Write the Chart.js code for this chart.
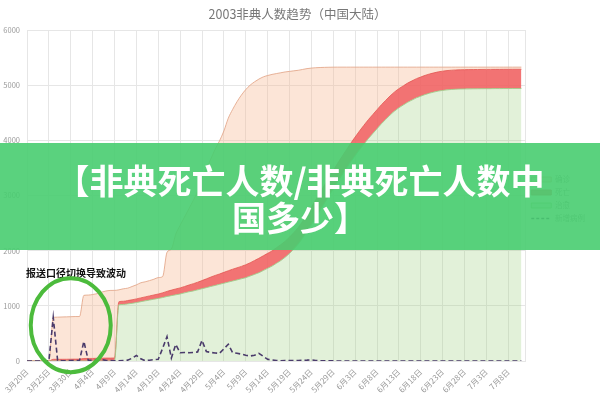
<!DOCTYPE html>
<html>
<head>
<meta charset="utf-8">
<script src="https://cdn.jsdelivr.net/npm/chart.js@4.4.0/dist/chart.umd.min.js"></script>
<style>
html, body { margin: 0; padding: 0; background: #fff; }
#wrap { position: relative; width: 600px; height: 398px; overflow: hidden; }
#banner {
    position: absolute; left: 0; top: 143px; width: 600px; height: 107px;
    background: rgba(72, 205, 112, 0.9);
    color: #fff; font-family: "Noto Sans CJK SC", sans-serif; font-weight: 700;
    font-size: 34px; line-height: 37px; text-align: center;
    display: flex; align-items: center; justify-content: center;
    padding-top: 3px; box-sizing: border-box;
}
</style>
</head>
<body>
<div id="wrap">
    <canvas id="chart" width="600" height="398"></canvas>
    <div id="banner"><div>【非典死亡人数/非典死亡人数中<br>国多少】</div></div>
</div>
<script>
// Datos (3月20日 -> 7月11日, un valor por día)
const confirmed = [
    0, 0, 0, 0, 0, 0, 792, 795, 798, 800,
    803, 806, 806, 1190, 1195, 1205, 1220, 1247, 1268, 1279,
    1280, 1290, 1309, 1320, 1350, 1380, 1418, 1435, 1457, 1482,
    1512, 1530, 1970, 2030, 2300, 2460, 2610, 2760, 2910, 3080,
    3320, 3490, 3660, 3840, 3990, 4170, 4400, 4560, 4700, 4820,
    4920, 5000, 5060, 5110, 5150, 5175, 5195, 5210, 5225, 5240,
    5250, 5260, 5270, 5285, 5300, 5310, 5316, 5320, 5323, 5325,
    5326, 5327, 5327, 5327, 5327, 5327, 5327, 5327, 5327, 5327,
    5327, 5327, 5327, 5327, 5327, 5327, 5327, 5327, 5327, 5327,
    5327, 5327, 5327, 5327, 5327, 5327, 5327, 5327, 5327, 5327,
    5327, 5327, 5327, 5327, 5327, 5327, 5327, 5327, 5327, 5327,
    5327, 5327, 5327, 5327
];
const deaths = [
    0, 0, 0, 0, 0, 0, 31, 31, 31, 32,
    33, 34, 34, 46, 46, 47, 49, 51, 53, 53,
    55, 56, 58, 61, 64, 66, 69, 72, 75, 77,
    79, 86, 92, 100, 106, 110, 115, 122, 131, 138,
    148, 159, 170, 181, 187, 197, 206, 214, 219, 225,
    235, 240, 252, 262, 267, 271, 275, 282, 289, 290,
    296, 298, 300, 303, 316, 317, 321, 325, 327, 328,
    332, 334, 336, 337, 338, 340, 340, 343, 343, 344,
    345, 345, 346, 346, 347, 347, 347, 348, 348, 348,
    348, 348, 348, 348, 348, 349, 349, 349, 349, 349,
    349, 349, 349, 349, 349, 349, 349, 349, 349, 349,
    349, 349, 349, 349
];
const cured = [
    0, 0, 0, 0, 0, 0, 0, 0, 0, 0,
    0, 0, 0, 0, 0, 0, 0, 0, 0, 0,
    0, 1018, 1025, 1035, 1045, 1060, 1075, 1090, 1105, 1120,
    1135, 1150, 1170, 1185, 1200, 1215, 1235, 1255, 1270, 1290,
    1310, 1330, 1351, 1370, 1390, 1410, 1430, 1450, 1470, 1490,
    1510, 1540, 1570, 1600, 1640, 1680, 1720, 1770, 1820, 1880,
    1950, 2030, 2120, 2230, 2350, 2470, 2600, 2730, 2860, 2990,
    3120, 3250, 3370, 3490, 3610, 3720, 3830, 3930, 4030, 4120,
    4210, 4300, 4380, 4460, 4530, 4590, 4640, 4690, 4730, 4770,
    4800, 4830, 4855, 4875, 4893, 4905, 4915, 4922, 4927, 4930,
    4932, 4933, 4934, 4935, 4936, 4937, 4937, 4938, 4938, 4939,
    4939, 4940, 4940, 4940
];
const newCases = [
    0, 0, 0, 0, 0, 0, 790, 10, 5, 5,
    8, 5, 10, 355, 15, 10, 20, 25, 12, 8,
    5, 5, 10, 15, 50, 100, 40, 5, 15, 25,
    30, 230, 440, 55, 300, 150, 155, 150, 155, 165,
    375, 170, 155, 145, 140, 220, 303, 151, 139, 125,
    105, 90, 105, 139, 85, 30, 20, 8, 5, 10,
    8, 6, 10, 12, 15, 20, 10, 5, 3, 2,
    2, 1, 0, 1, 0, 0, 1, 0, 0, 0,
    0, 1, 0, 0, 0, 0, 0, 0, 1, 0,
    0, 0, 0, 0, 0, 0, 0, 0, 0, 0,
    0, 0, 0, 0, 0, 0, 0, 0, 0, 0,
    0, 0, 0, 0
];
const yTicks = [0, 1000, 2000, 3000, 4000, 5000, 6000];
const titleText = '2003非典人数趋势（中国大陆）';
const noteText = '报送口径切换导致波动';

// Etiquetas diarias del eje x
const monthRanges = [[3, 20, 31], [4, 1, 30], [5, 1, 31], [6, 1, 30], [7, 1, 12]];
const dayLabels = [];
monthRanges.forEach(([m, from, to]) => {
    for (let d = from; d <= to; d++) dayLabels.push(m + '月' + d + '日');
});

const gridColor = '#e6e6e6';
const legendOrder = [1, 3, 2, 0];

Chart.defaults.font.family = '"Noto Sans CJK SC", "Noto Sans", sans-serif';

// Anotación y círculo verde
const notePlugin = {
    id: 'note',
    afterDraw(chart) {
        const { ctx, chartArea, scales: { x, y } } = chart;
        ctx.save();
        ctx.font = 'bold 10px "Noto Sans CJK SC"';
        ctx.fillStyle = '#111';
        ctx.textBaseline = 'middle';
        ctx.fillText(noteText, chartArea.left - 1, y.getPixelForValue(1600));
        ctx.beginPath();
        ctx.ellipse(x.getPixelForValue(10), y.getPixelForValue(650), 40, 47, 0, 0, Math.PI * 2);
        ctx.lineWidth = 4;
        ctx.strokeStyle = '#4cbb3c';
        ctx.stroke();
        ctx.restore();
    }
};

new Chart(document.getElementById('chart'), {
    type: 'line',
    data: {
        labels: dayLabels,
        datasets: [
            {
                label: '新增病例',
                data: newCases,
                borderColor: '#4a3b6b',
                backgroundColor: 'rgba(0,0,0,0)',
                borderWidth: 1.6,
                borderDash: [5, 3],
                tension: 0,
                fill: false,
                stack: 'c',
                pointRadius: 0,
                pointStyle: 'line'
            },
            {
                label: '确诊',
                data: confirmed,
                borderColor: 'rgba(225,160,130,0.8)',
                backgroundColor: 'rgba(247,180,140,0.35)',
                borderWidth: 1,
                cubicInterpolationMode: 'monotone',
                fill: 3,
                stack: 'b',
                pointRadius: 0,
                pointStyle: 'rect'
            },
            {
                label: '治愈',
                data: cured,
                borderColor: 'rgba(160,205,140,0.9)',
                backgroundColor: 'rgba(160,210,130,0.3)',
                borderWidth: 1,
                cubicInterpolationMode: 'monotone',
                fill: 'origin',
                stack: 'a',
                pointRadius: 0,
                pointStyle: 'rect'
            },
            {
                label: '死亡',
                data: deaths,
                borderColor: '#e45b5b',
                backgroundColor: 'rgba(240,90,90,0.85)',
                borderWidth: 1,
                cubicInterpolationMode: 'monotone',
                fill: 2,
                stack: 'a',
                pointRadius: 0,
                pointStyle: 'rect'
            }
        ]
    },
    options: {
        responsive: false,
        animation: false,
        layout: { padding: { right: 5 } },
        plugins: {
            title: {
                display: true,
                text: titleText,
                color: '#777',
                font: { size: 12.5, weight: 'normal' },
                padding: { top: 7, bottom: 8 }
            },
            legend: {
                position: 'right',
                labels: {
                    usePointStyle: true,
                    pointStyleWidth: 20,
                    boxHeight: 5,
                    padding: 5.5,
                    color: '#999',
                    font: { size: 7.5 },
                    generateLabels(chart) {
                        return legendOrder.map(i => {
                            const ds = chart.data.datasets[i];
                            return {
                                text: ds.label,
                                fillStyle: ds.backgroundColor,
                                strokeStyle: ds.borderColor,
                                lineWidth: ds.borderDash ? 1.5 : 1,
                                lineDash: ds.borderDash ? [3, 2] : [],
                                pointStyle: ds.pointStyle,
                                fontColor: '#999',
                                datasetIndex: i,
                                hidden: false
                            };
                        });
                    }
                }
            },
            tooltip: { enabled: false }
        },
        scales: {
            x: {
                grid: {
                    drawTicks: false,
                    color: c => (c.index % 5 === 0 || c.index === dayLabels.length - 1) ? gridColor : 'rgba(0,0,0,0)'
                },
                border: { color: gridColor },
                ticks: {
                    autoSkip: false,
                    minRotation: 45,
                    maxRotation: 45,
                    padding: 6,
                    color: '#999',
                    font: { size: 8 },
                    callback: (v, i) => i % 5 === 0 ? dayLabels[i] : ''
                },
                afterFit(scale) { scale.height = 37; }
            },
            y: {
                stacked: true,
                min: 0,
                max: 6000,
                afterBuildTicks(scale) { scale.ticks = yTicks.map(v => ({ value: v })); },
                grid: { drawTicks: false, color: gridColor },
                border: { color: gridColor },
                ticks: { padding: 7, color: '#999', font: { size: 7.5 }, callback: v => String(v) },
                afterFit(scale) { scale.width = 27; }
            }
        }
    },
    plugins: [notePlugin]
});
</script>
</body>
</html>
